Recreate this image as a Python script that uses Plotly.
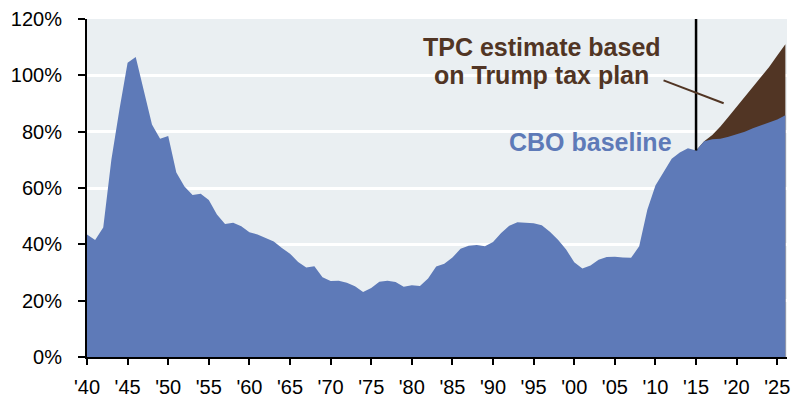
import plotly.graph_objects as go

years = list(range(1940, 2027))
cbo_baseline = [
    43.5, 41.5, 46.0, 70.0, 88.0, 104.5, 106.5, 94.0, 82.5, 77.5,
    78.5, 65.5, 60.5, 57.5, 58.0, 55.7, 50.6, 47.2, 47.7, 46.4,
    44.3, 43.5, 42.3, 41.0, 38.7, 36.7, 33.7, 31.8, 32.2, 28.3,
    27.0, 27.1, 26.4, 25.1, 23.1, 24.5, 26.7, 27.1, 26.6, 24.9,
    25.5, 25.2, 27.9, 32.1, 33.1, 35.3, 38.4, 39.5, 39.8, 39.3,
    40.8, 44.0, 46.6, 47.8, 47.7, 47.5, 46.8, 44.5, 41.6, 38.2,
    33.6, 31.4, 32.5, 34.5, 35.5, 35.6, 35.3, 35.2, 39.3, 52.3,
    60.9, 65.9, 70.4, 72.6, 74.1, 73.3, 76.6, 77.3, 77.5, 78.2,
    79.0, 80.0, 81.2, 82.3, 83.3, 84.3, 85.8,
]
tpc_years = list(range(2015, 2027))
tpc_estimate = [73.3, 76.6, 78.8, 81.8, 85.3, 88.8, 92.3, 95.8, 99.3, 103.0, 107.0, 111.0]

tick_years = list(range(1940, 2026, 5))
tick_text = ["'" + str(y)[2:] for y in tick_years]
y_ticks = [0, 20, 40, 60, 80, 100, 120]
y_text = [f"{v}%" for v in y_ticks]

BLUE = "#5E7AB8"
BROWN = "#513524"
FONT = "Liberation Sans, Arial, sans-serif"

fig = go.Figure()
fig.add_trace(go.Scatter(
    x=tpc_years, y=tpc_estimate, mode="lines", fill="tozeroy",
    line=dict(width=0, color=BROWN), fillcolor=BROWN, hoverinfo="skip",
    showlegend=False,
))
fig.add_trace(go.Scatter(
    x=years, y=cbo_baseline, mode="lines", fill="tozeroy",
    line=dict(width=0, color=BLUE), fillcolor=BLUE, hoverinfo="skip",
    showlegend=False,
))

# vertical divider at 2015
v2015 = cbo_baseline[years.index(2015)]
fig.add_shape(type="line", x0=2015, x1=2015, y0=v2015, y1=120.8,
              xref="x", yref="y", line=dict(color="black", width=2.5))
# pointer line for TPC annotation
fig.add_shape(type="line", x0=2011.0, y0=98.2, x1=2018.4, y1=90.1,
              xref="x", yref="y", line=dict(color=BROWN, width=2))

fig.add_annotation(x=1996, y=110.2, xref="x", yref="y",
                   text="<b>TPC estimate based</b>",
                   showarrow=False, font=dict(family=FONT, size=25, color=BROWN))
fig.add_annotation(x=1996, y=100.1, xref="x", yref="y",
                   text="<b>on Trump tax plan</b>",
                   showarrow=False, font=dict(family=FONT, size=25, color=BROWN))
fig.add_annotation(x=2002, y=76.4, xref="x", yref="y",
                   text="<b>CBO baseline</b>",
                   showarrow=False, font=dict(family=FONT, size=25, color=BLUE))

fig.update_layout(
    width=809, height=397,
    margin=dict(l=87, r=22, t=19, b=40),
    paper_bgcolor="white", plot_bgcolor="#EAEFF2",
    font=dict(family=FONT, size=20, color="black"),
    showlegend=False,
)
fig.update_xaxes(
    range=[1940, 2026.2], tickvals=tick_years, ticktext=tick_text,
    showgrid=False, zeroline=False, showline=True, linecolor="black", linewidth=2,
    ticks="outside", ticklen=6, tickwidth=2, tickcolor="black",
    tickfont=dict(family=FONT, size=20), ticklabelstandoff=5, automargin=False,
)
fig.update_yaxes(
    range=[0, 120], tickvals=y_ticks, ticktext=y_text,
    showgrid=True, gridcolor="white", gridwidth=2.5, zeroline=False,
    showline=True, linecolor="black", linewidth=2,
    ticks="outside", ticklen=7, tickwidth=2, tickcolor="black",
    tickfont=dict(family=FONT, size=20), ticklabelstandoff=12, automargin=False,
)

fig.write_html("out.html")
